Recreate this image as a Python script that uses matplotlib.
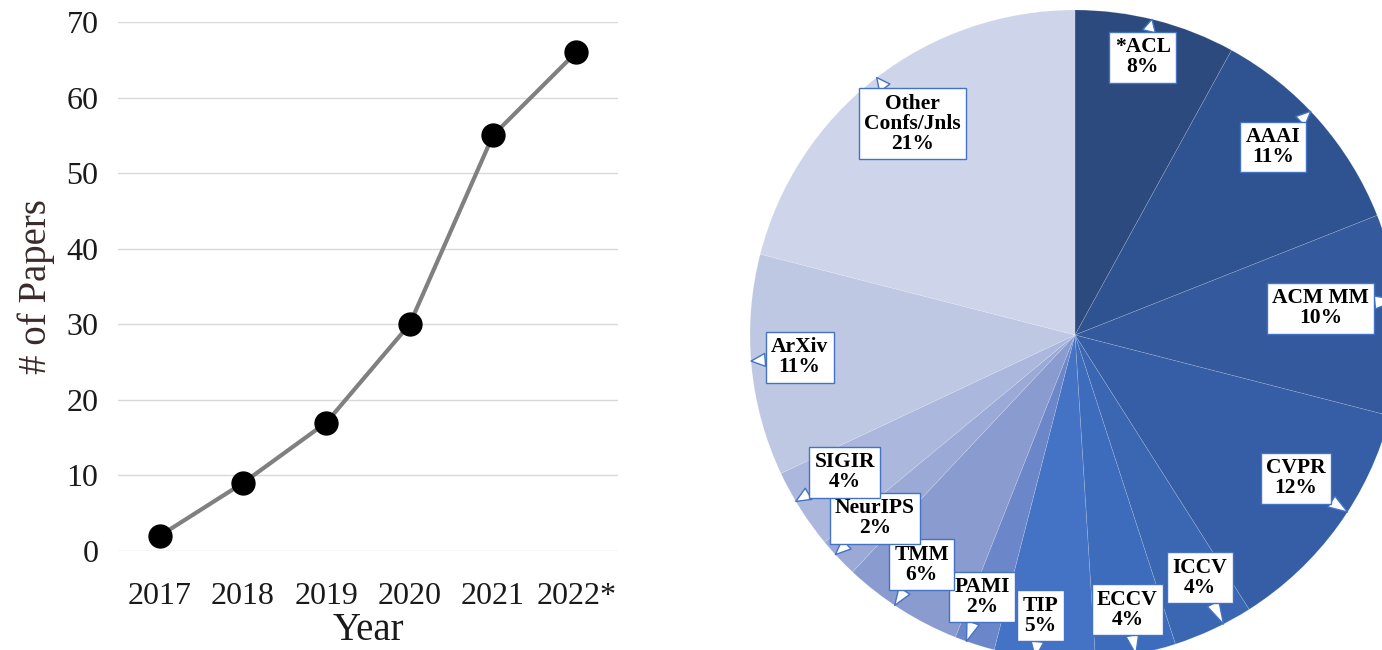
import matplotlib
matplotlib.use("Agg")
import matplotlib.pyplot as plt
import numpy as np

# ---------------- data ----------------
years = ["2017", "2018", "2019", "2020", "2021", "2022*"]
papers = [2, 9, 17, 30, 55, 66]

venues = ["*ACL", "AAAI", "ACM MM", "CVPR", "ICCV", "ECCV", "TIP", "PAMI",
          "TMM", "NeurIPS", "SIGIR", "ArXiv", "Other\nConfs/Jnls"]
shares = [8, 11, 10, 12, 4, 4, 5, 2, 6, 2, 4, 11, 21]
colors = ["#2D4A7E", "#2F5290", "#34599C", "#365EA6", "#3A66B2", "#3D6CBC",
          "#4472C4", "#6C87C9", "#8A9BD0", "#9AA9D6", "#ABB7DD", "#BEC8E3",
          "#CED5EA"]

# label layout (radius fraction, angle offset in degrees)
label_r = [0.88, 0.84, 0.76, 0.81, 0.84, 0.86, 0.87, 0.855, 0.85, 0.835, 0.825, 0.85, 0.82]
label_da = [0.7, 2.1, 2.6, 3.0, 2.0, 0.0, -1.6, -1.5, -1.3, -0.7, -1.6, -0.8, -0.2]

W, H = 1382, 650
fig = plt.figure(figsize=(W / 100, H / 100), dpi=100)
serif = ["Liberation Serif", "DejaVu Serif"]

# ---------------- line chart ----------------
ax = fig.add_axes([118 / W, (H - 551) / H, 500 / W, (551 - 22) / H])
x = np.arange(len(years))
ax.plot(x, papers, color="#808080", lw=3, marker="o", ms=16.5,
        mfc="black", mec="black", zorder=3)
ax.set_xlim(-0.5, len(years) - 0.5)
ax.set_ylim(0, 70)
ax.set_yticks(range(0, 71, 10))
ax.set_xticks(x)
ax.set_xticklabels(years)
ax.yaxis.grid(True, color="#D9D9D9", lw=1)
ax.set_axisbelow(True)
for s in ax.spines.values():
    s.set_visible(False)
ax.tick_params(length=0, labelsize=23, colors="#1a1a1a", pad=14)
ax.tick_params(axis="x", pad=22)
for lab in ax.get_xticklabels() + ax.get_yticklabels():
    lab.set_family(serif)
ax.set_xlabel("Year", fontsize=28, family=serif, color="#1a1a1a", labelpad=1)
ax.set_ylabel("# of Papers", fontsize=28, family=serif, color="#3a2a2a", labelpad=8)

# ---------------- pie chart ----------------
pax = fig.add_axes([740 / W, 0, (W - 740) / W, 1])
cx, cy, R = 1075, H - 335, 325
wedges, _ = pax.pie(shares, colors=colors, startangle=90, counterclock=False,
                    center=(cx, cy), radius=R, frame=False,
                    wedgeprops=dict(linewidth=0.5, edgecolor="#ffffff30"))
pax.set_xlim(740, W)
pax.set_ylim(0, H)
pax.set_aspect("equal")
pax.axis("off")

blue = "#4472C4"
for w, name, share, rf, da in zip(wedges, venues, shares, label_r, label_da):
    ang = np.deg2rad((w.theta1 + w.theta2) / 2 + da)
    tx, ty = cx + rf * R * np.cos(ang), cy + rf * R * np.sin(ang)
    px, py = cx + R * np.cos(ang), cy + R * np.sin(ang)
    pax.annotate(f"{name}\n{share}%", xy=(px, py), xytext=(tx, ty),
                 ha="center", va="center", fontsize=15.5, fontweight="bold",
                 family=serif, color="black", linespacing=1.0,
                 bbox=dict(boxstyle="square,pad=0.25", fc="white", ec=blue, lw=1),
                 arrowprops=dict(arrowstyle="wedge,tail_width=0.6,shrink_factor=0.5",
                                 fc="white", ec=blue, lw=1,
                                 shrinkA=0, shrinkB=0),
                 annotation_clip=False)

fig.savefig("out.png", dpi=100)
